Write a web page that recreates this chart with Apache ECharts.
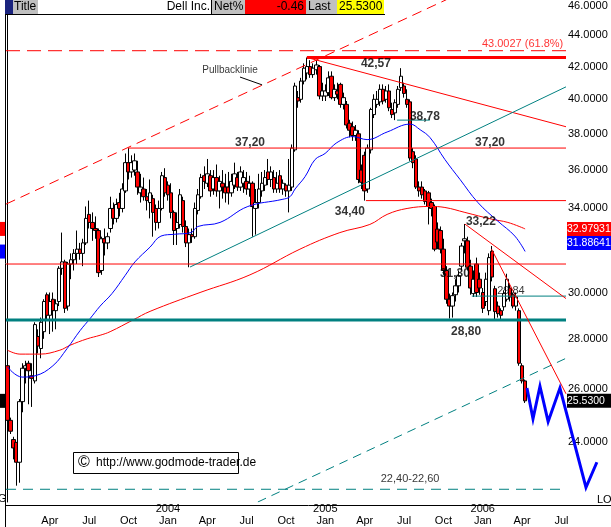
<!DOCTYPE html>
<html><head><meta charset="utf-8">
<script src="https://cdn.jsdelivr.net/npm/echarts@6/dist/echarts.min.js"></script>
<style>html,body{margin:0;padding:0;background:#fff;overflow:hidden}#c{width:611px;height:527px}</style>
</head><body><div id="c"></div><script>
// ---------- data ----------
const startWeek = '2002-12-30';
const weekCount = 185;
// weekly bars [open, high, low, close]
const bars2003 = [
[26.9,27.0,24.7,24.8],[24.8,24.9,24.3,24.4],[24.1,24.2,23.4,23.8],[24.0,24.0,22.5,23.3],[23.3,25.6,22.6,25.5],
[25.5,27.0,25.1,26.8],[26.8,27.1,26.2,26.9],[27.0,27.1,25.4,26.7],[26.5,27.0,25.3,26.4],[26.3,28.7,26.2,28.6],
[28.1,28.4,27.4,27.7],[27.6,28.9,27.2,28.7],[28.3,29.7,28.0,29.6],[29.9,30.0,28.8,29.0],[29.0,30.0,28.2,29.6],
[29.7,30.0,28.3,29.2],[29.2,29.7,28.4,29.5],[29.6,31.2,29.4,31.1],[31.1,32.8,30.8,31.4],[31.4,31.5,29.1,29.3],
[29.4,31.4,29.2,31.3],[31.3,31.8,30.6,31.5],[31.5,32.0,31.0,31.8],[31.8,32.9,31.3,32.0],[32.0,32.3,31.5,31.8],
[31.8,32.5,31.2,32.3],[32.3,34.1,32.2,33.5],[33.7,34.4,33.0,33.3],[33.3,33.8,32.4,33.0],[33.0,33.6,32.5,32.9],
[32.9,33.0,30.7,30.9],[31.0,32.6,30.8,32.5],[32.5,33.0,31.7,32.3],[32.3,32.8,32.0,32.6],[33.0,34.6,32.8,34.0],
[34.0,34.3,33.2,33.5],[33.5,34.5,33.3,34.2],[34.3,34.8,33.6,34.0],[34.0,35.3,33.8,35.0],[34.9,36.9,34.8,36.4],
[36.4,37.2,35.5,35.9],[35.9,36.8,35.6,36.4],[36.0,36.9,35.7,36.5],[35.9,36.5,34.7,35.1],[34.8,35.8,34.3,35.1],
[35.0,35.6,34.4,34.6],[34.6,35.0,33.9,34.4],[34.3,35.5,33.5,34.8],[34.5,34.7,32.6,33.8],[34.0,34.2,32.9,33.3],
[33.3,34.4,33.0,34.0],[34.0,35.9,33.9,35.7],[35.6,36.1,34.6,34.8]
];
const bars2004 = [
[35.2,35.4,34.4,34.7],[34.8,35.3,33.5,33.8],[33.8,33.9,32.2,32.9],[33.0,33.8,32.2,33.3],[33.2,35.0,33.0,34.7],
[34.4,34.6,32.8,33.1],[33.1,33.4,32.1,32.3],[32.3,33.0,31.15,32.7],[32.7,33.0,32.3,32.6],[32.6,34.3,32.5,34.0],
[33.9,35.0,33.7,34.7],[34.6,35.8,34.5,35.6],[35.7,36.2,35.0,35.4],[35.3,36.6,35.1,35.8],[35.7,36.0,34.6,34.9],
[35.0,36.0,34.7,35.6],[35.6,36.3,34.6,34.9],[34.9,35.7,34.0,35.4],[35.3,36.0,34.5,35.1],[35.1,35.8,34.3,34.8],
[35.1,35.9,34.2,34.8],[34.8,35.8,34.6,35.4],[35.2,36.4,35.0,35.8],[35.6,35.9,34.9,35.1],[35.1,36.2,34.9,35.9],
[35.3,36.0,34.8,35.6],[35.4,35.9,34.7,35.0],[35.0,35.7,34.6,35.3],[35.3,35.4,32.6,34.1],[34.0,35.0,32.7,34.3],
[34.3,35.8,34.0,35.0],[34.9,35.9,34.6,35.3],[35.2,36.0,34.9,35.6],[35.9,36.6,35.2,35.5],[35.5,36.2,35.1,35.9],
[35.6,36.0,34.8,35.0],[35.0,35.9,34.8,35.3],[35.7,36.0,34.8,35.0],[35.0,35.5,34.7,35.3],[35.2,35.3,34.6,34.9],
[34.9,36.6,33.8,35.2],[35.1,37.4,34.9,37.2],[37.1,41.0,37.0,40.8],[40.1,40.5,39.5,39.9],[40.0,41.3,39.8,41.1],
[41.1,42.2,40.9,41.9],[41.6,42.57,41.2,42.0],[42.0,42.4,41.3,41.5],[41.5,42.2,41.3,41.9],[41.8,42.4,41.5,42.1],
[42.0,42.1,40.0,40.2],[40.2,41.0,39.9,40.5]
];
const bars2005 = [
[40.2,40.9,39.9,40.5],[40.4,41.7,40.2,41.3],[41.4,41.7,40.0,40.1],[40.1,40.9,39.9,40.6],[40.5,41.0,40.0,40.3],
[40.9,41.0,39.5,39.7],[39.7,40.4,39.4,40.1],[39.7,39.9,38.3,38.5],[38.6,38.8,37.8,38.2],[38.4,38.7,37.6,37.9],
[37.9,38.5,37.6,38.2],[38.0,38.2,35.3,35.5],[36.0,36.3,35.0,35.35],[36.8,37.0,34.4,34.9],[35.0,37.4,34.8,37.2],
[37.1,39.5,36.9,39.4],[39.1,40.3,38.9,40.0],[39.7,40.5,39.5,40.0],[39.85,40.9,39.6,40.6],[40.6,40.9,39.7,39.9],
[40.0,40.8,39.8,40.5],[40.5,40.9,39.3,39.5],[39.4,39.8,38.9,39.1],[39.2,40.0,38.78,39.8],[39.7,40.8,39.5,40.6],
[40.7,41.9,40.5,41.4],[40.8,41.0,40.1,40.35],[40.0,40.6,39.5,39.7],[39.85,40.0,36.5,36.65],[37.0,37.2,36.1,36.4],
[36.6,36.8,35.0,35.1],[35.1,35.4,34.6,34.9],[35.1,35.4,34.5,34.7],[34.9,35.0,34.2,34.36],[34.8,34.9,33.2,34.1],
[34.3,34.5,33.6,34.0],[34.1,34.2,31.9,32.0],[32.97,33.3,32.0,32.34],[32.9,33.1,31.8,32.0],[32.0,32.5,30.8,31.0],
[31.0,31.2,29.5,29.7],[29.7,29.95,28.86,29.4],[29.4,30.0,28.9,29.86],[29.9,30.6,29.6,30.3],[30.3,31.0,30.0,30.76],
[31.2,32.3,31.0,32.15],[32.4,33.22,31.8,32.5],[32.4,32.6,31.0,31.15],[31.2,31.5,29.9,30.2],[29.95,31.0,29.8,30.6],
[31.3,31.6,29.8,30.0],[30.6,30.9,29.9,30.2]
];
const bars2006 = [
[30.0,30.2,29.1,29.3],[29.6,30.9,29.4,30.6],[29.2,31.8,29.0,31.6],[31.9,32.15,30.5,30.7],[30.17,30.3,28.8,29.16],
[29.4,29.6,28.9,29.07],[29.2,29.3,28.8,29.0],[29.37,30.1,29.2,29.95],[29.7,30.85,29.6,30.6],[30.2,30.4,29.6,29.8],
[29.9,30.0,29.3,29.4],[29.4,30.0,29.2,29.8],[29.2,29.3,26.9,27.0],[26.9,27.0,26.2,26.3],[26.3,26.35,25.45,25.53]
];
// moving averages: [week index, value]
const blueMA = [[0,26.85],[4.8,26.45],[9.1,26.5],[15,26.9],[19.7,27.6],[24,28.35],[27.3,28.86],[30.6,29.4],[34.5,29.95],
[38.8,30.76],[42.1,31.4],[47.1,32.1],[50.7,32.63],[55.3,32.72],[60.6,32.8],[62.9,33.1],[70.2,33.3],[79.4,34.1],
[90.7,34.46],[93.3,34.6],[95,35.0],[98.3,35.65],[101.6,36.57],[104.9,36.9],[108.8,37.5],[114.1,37.84],[118.8,37.67],
[125.4,38.1],[133,38.55],[136.3,38.23],[139.6,37.78],[144.5,36.57],[149.5,35.5],[155.4,34.3],[162,33.36],[167.6,32.63],[171,31.89]];
const redMA = [[0,27.53],[4.1,27.37],[10.7,27.37],[17.3,27.53],[20.6,27.73],[26.3,28.0],[30.6,28.15],[33.9,28.3],[41.5,28.8],
[47.1,29.17],[63.6,30.0],[80.1,30.8],[96.6,32.0],[109.8,32.8],[119.7,33.2],[125.4,33.7],[132,34.0],[139.6,34.1],
[144.5,34.05],[151.1,33.8],[160,33.46],[165.3,33.3],[171,32.98]];
const lastPrice = 25.53, redMALast = 32.97931, blueMALast = 31.88641;
const priceTicks = [24,26,28,30,34,36,38,40,42,44,46];
// drawn lines: [week, price] end points
const pullbackLine = [[-0.5,34.22],[145,46.4]];
const fib618 = [[-0.5,43.0027],[184.5,43.0027]];
const high4257 = [[98.9,42.57],[184.5,42.57]];
const downTrend = [[98.9,42.57],[184.5,38.4]];
const res3720 = [[39.8,37.2],[184.5,37.2]];
const sup3440 = [[118.4,34.4],[184.5,34.4]];
const sup3130 = [[-0.5,31.3],[184.5,31.3]];
const sup2880 = [[-0.5,28.8],[184.5,28.8]];
const lvl2984 = [[153.4,29.84],[184.5,29.84]];
const lvl3878 = [[128.7,38.78],[139.5,38.78]];
const upTrend = [[60.3,31.16],[184.5,40.75]];
const channelLow = [[82.7,21.96],[184.5,27.2]];
const low2250 = [[-0.5,22.38],[184.5,22.38]];
const fan1 = [[151.1,33.22],[184.5,29.73]];
const fan2 = [[159.9,32.0],[184.5,25.8]];
const pointer = [[76.8,41.35],[84.1,40.87]];
const projection = [[171.6,26.02],[173.6,24.86],[175.9,26.09],[178.6,24.75],[182.5,26.02],[191.1,22.44],[194.7,23.3]];
const boldNotes = [['42,57',121.7,42.15],['38,78',137.9,38.98],['37,20',80.1,37.51],['37,20',159.4,37.51],
['34,40',113.1,33.86],['31,30',147.8,30.86],['33,22',156.4,33.32],['28,80',151.5,28.3]];
const plainNotes = [['29,84',166.3,30.08],['22,40-22,60',133,22.72],['Pullbacklinie',73.5,41.78]];
const fibNote = ['43.0027 (61.8%)',183.6,43.42];

// ---------- build ----------
const bars = bars2003.concat(bars2004, bars2005, bars2006);
const categories = [];
const d0 = Date.parse(startWeek + 'T00:00:00Z');
for (let i = 0; i < weekCount; i++) categories.push(new Date(d0 + i * 7 * 86400000).toISOString().slice(0, 10));
const monthNames = {0:'Jan',3:'Apr',6:'Jul',9:'Oct'};
function isTick(idx) {
  const d = new Date(categories[idx] + 'T00:00:00Z');
  return idx > 4 && d.getUTCMonth() % 3 === 0 && d.getUTCDate() <= 7;
}
const FONT = 'Liberation Sans, Arial, sans-serif';
function lineSeries(data, color, width, type, z) {
  return {type:'line', xAxisIndex:1, yAxisIndex:0, data, symbol:'none', silent:true, animation:false,
    lineStyle:{color, width, type: type || 'solid'}, z: z || 5};
}
const chart = echarts.init(document.getElementById('c'));
const option = {
  animation:false,
  grid:{left:6, right:45, top:0, bottom:22, containLabel:false},
  xAxis:[{
    type:'category', data:categories, boundaryGap:true,
    axisLine:{show:false}, axisTick:{show:false}, splitLine:{show:false},
    axisLabel:{
      interval:(idx)=>isTick(idx), margin:1, color:'#000', fontFamily:FONT, fontSize:11, lineHeight:12,
      formatter:(v)=>{const d=new Date(v+'T00:00:00Z'); const m=d.getUTCMonth();
        return m===0 ? d.getUTCFullYear()+'\n'+monthNames[m] : ' \n'+monthNames[m];}
    }
  },{type:'value', min:-0.5, max:184.5, show:false}],
  yAxis:[{
    type:'log', position:'right', min:21.96, max:46.34, logBase:10,
    axisLine:{show:true, lineStyle:{color:'#000', width:1}}, axisTick:{show:false}, splitLine:{show:false},
    axisLabel:{customValues:priceTicks, formatter:(v)=>Number(v).toFixed(4), color:'#000', fontFamily:FONT, fontSize:11, margin:2}
  }],
  series:[
    {type:'candlestick', xAxisIndex:0, yAxisIndex:0, barWidth:4, z:3,
     data: bars.map(b=>[b[0],b[3],b[2],b[1]]),
     itemStyle:{color:'#ffffff', color0:'#ff0000', borderColor:'#000000', borderColor0:'#000000', borderWidth:1}},
    Object.assign(lineSeries(redMA,'#ff0000',1), {smooth:0.4, z:4}),
    Object.assign(lineSeries(blueMA,'#0000ff',1), {smooth:0.4, z:4}),
    lineSeries(pullbackLine,'#ff0000',1,[10,6]),
    lineSeries(fib618,'#ff0000',1,[14,7]),
    lineSeries(high4257,'#ff0000',3),
    lineSeries(downTrend,'#ff0000',1),
    lineSeries(res3720,'#ff0000',1),
    lineSeries(sup3440,'#ff0000',1),
    lineSeries(sup3130,'#ff0000',1),
    lineSeries(sup2880,'#008080',3),
    lineSeries(lvl2984,'#008080',1),
    lineSeries(lvl3878,'#008080',1),
    lineSeries(upTrend,'#008080',1),
    lineSeries(channelLow,'#008080',1,[9,6]),
    lineSeries(low2250,'#008080',1,[10,7]),
    lineSeries(fan1,'#ff0000',1),
    lineSeries(fan2,'#ff0000',1),
    lineSeries(pointer,'#000000',1),
    {type:'scatter', xAxisIndex:1, yAxisIndex:0, symbolSize:0, silent:true, z:11,
     data: boldNotes.map(n=>({value:[n[1],n[2]], name:n[0]})).concat(
       plainNotes.map(n=>({value:[n[1],n[2]], name:n[0], label:{fontWeight:'normal', fontSize: n[0]==='Pullbacklinie'?10:11}})),
       [{value:[fibNote[1],fibNote[2]], name:fibNote[0], label:{fontWeight:'normal', color:'#ff0000', align:'right', fontSize:11}}]),
     label:{show:true, position:'inside', formatter:(p)=>p.name, color:'#000', fontFamily:FONT, fontSize:12, fontWeight:'bold'}}
  ]
};
chart.setOption(option);
const yPix = (v)=>chart.convertToPixel({yAxisIndex:0}, v);
const xPix = (v)=>chart.convertToPixel({xAxisIndex:1}, v);
const yRed = yPix(redMALast), yBlue = yRed + 14, yLast = yPix(lastPrice);
function tag(y, color, text) {
  return [{type:'rect', shape:{x:567, y:y-7, width:44, height:14}, style:{fill:color}, z:50},
          {type:'text', x:567, y:y, style:{text, fill:'#fff', font:'10.5px '+FONT, textVerticalAlign:'middle'}, z:51}];
}
function block(v, color) { const y = yPix(v); return {type:'rect', shape:{x:0, y:y-7, width:5, height:14}, style:{fill:color}, z:50}; }
const g = [].concat(
  tag(yRed,'#ff0000', redMALast.toFixed(5)), tag(yBlue,'#0000ff', blueMALast.toFixed(5)), tag(yLast,'#000000', lastPrice.toFixed(4)),
  [block(redMALast,'#ff0000'), block(blueMALast,'#0000ff'), block(lastPrice,'#000000'),
   // projected path (drawn past the axis like the original)
   {type:'polyline', shape:{points: projection.map(p=>[xPix(p[0]), yPix(p[1])])}, style:{stroke:'#0000ff', lineWidth:3, fill:null}, z:55},
   {type:'line', shape:{x1:5.5, y1:0, x2:5.5, y2:527}, style:{stroke:'#000', lineWidth:1}, z:50},
   {type:'line', shape:{x1:6, y1:505.5, x2:611, y2:505.5}, style:{stroke:'#000', lineWidth:1}, z:50},
   {type:'text', x:597, y:500, style:{text:'LO', fill:'#000', font:'11px '+FONT, textVerticalAlign:'middle'}, z:50},
   {type:'text', x:-2, y:499, style:{text:'G', fill:'#000', font:'11px '+FONT, textVerticalAlign:'middle'}, z:50},
   // title bar
   {type:'rect', shape:{x:0, y:0, width:385, height:14}, style:{fill:'#fff'}, z:60},
   {type:'rect', shape:{x:5, y:0, width:8, height:14}, style:{fill:'#1a237e'}, z:61},
   {type:'rect', shape:{x:13, y:0, width:25, height:14}, style:{fill:'#c0c0c0'}, z:61},
   {type:'text', x:14, y:7, style:{text:'Title', fill:'#000', font:'12px '+FONT, textVerticalAlign:'middle'}, z:62},
   {type:'text', x:210, y:7, style:{text:'Dell Inc.', fill:'#000', font:'12px '+FONT, textAlign:'right', textVerticalAlign:'middle'}, z:62},
   {type:'line', shape:{x1:211.5, y1:0, x2:211.5, y2:14}, style:{stroke:'#000', lineWidth:1}, z:62},
   {type:'rect', shape:{x:212, y:0, width:33, height:14}, style:{fill:'#c0c0c0'}, z:61},
   {type:'text', x:214, y:7, style:{text:'Net%', fill:'#000', font:'12px '+FONT, textVerticalAlign:'middle'}, z:62},
   {type:'rect', shape:{x:245, y:0, width:61, height:14}, style:{fill:'#ff0000'}, z:61},
   {type:'text', x:304, y:7, style:{text:'-0.46', fill:'#000', font:'12px '+FONT, textAlign:'right', textVerticalAlign:'middle'}, z:62},
   {type:'rect', shape:{x:306, y:0, width:31, height:14}, style:{fill:'#c0c0c0'}, z:61},
   {type:'text', x:308, y:7, style:{text:'Last', fill:'#000', font:'12px '+FONT, textVerticalAlign:'middle'}, z:62},
   {type:'rect', shape:{x:337, y:0, width:47, height:14}, style:{fill:'#ffff00'}, z:61},
   {type:'text', x:339, y:7, style:{text:'25.5300', fill:'#000', font:'12px '+FONT, textVerticalAlign:'middle'}, z:62},
   {type:'line', shape:{x1:6, y1:14.5, x2:385, y2:14.5}, style:{stroke:'#000', lineWidth:1}, z:62},
   // copyright box
   {type:'rect', shape:{x:73.5, y:452.5, width:165, height:21}, style:{fill:'#fff', stroke:'#000', lineWidth:1}, z:40},
   {type:'text', x:78, y:463, style:{text:'©', fill:'#000', font:'16px '+FONT, textVerticalAlign:'middle'}, z:41},
   {type:'text', x:96, y:463, style:{text:'http://www.godmode-trader.de', fill:'#000', font:'12px '+FONT, textVerticalAlign:'middle'}, z:41}
  ]);
chart.setOption({graphic:g});
</script></body></html>
